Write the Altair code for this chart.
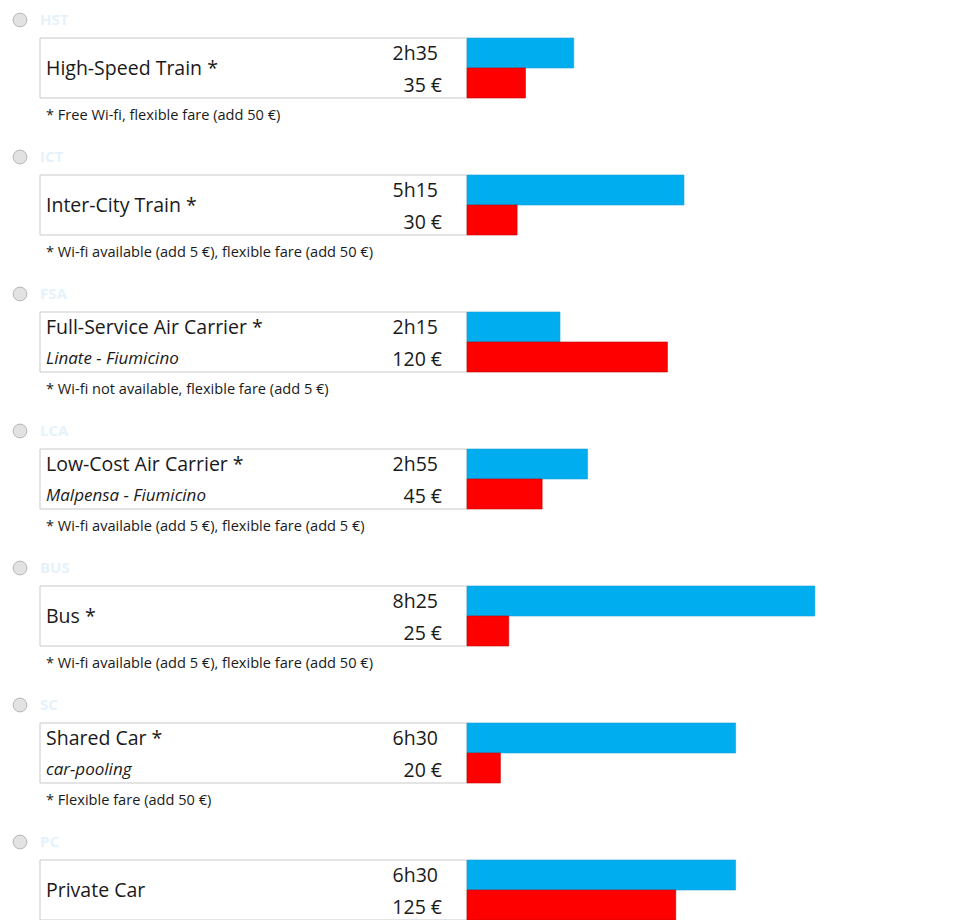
import altair as alt
import pandas as pd

# ---- data ----
modes = ["High-Speed Train *", "Inter-City Train *", "Full-Service Air Carrier *",
         "Low-Cost Air Carrier *", "Bus *", "Shared Car *", "Private Car"]
subtitles = ["", "", "Linate - Fiumicino", "Malpensa - Fiumicino", "", "car-pooling", ""]
codes = ["HST", "ICT", "FSA", "LCA", "BUS", "SC", "PC"]
time_labels = ["2h35", "5h15", "2h15", "2h55", "8h25", "6h30", "6h30"]
prices = [35, 30, 120, 45, 25, 20, 125]
notes = ["* Free Wi-fi, flexible fare (add 50 €)",
         "* Wi-fi available (add 5 €), flexible fare (add 50 €)",
         "* Wi-fi not available, flexible fare (add 5 €)",
         "* Wi-fi available (add 5 €), flexible fare (add 5 €)",
         "* Wi-fi available (add 5 €), flexible fare (add 50 €)",
         "* Flexible fare (add 50 €)",
         ""]


def to_minutes(s):
    h, m = s.split("h")
    return int(h) * 60 + int(m)


df = pd.DataFrame({
    "row": list(range(len(modes))),
    "mode": modes,
    "sub": subtitles,
    "code": codes,
    "time": time_labels,
    "minutes": [to_minutes(t) for t in time_labels],
    "price": prices,
    "price_label": [f"{p} €" for p in prices],
    "note": notes,
})

W, H = 946, 912
STEP = 137
FONT = "Open Sans"
TXT = "#1a1a1a"

yscale = alt.Scale(domain=[0, H / STEP], reverse=True, nice=False, zero=False)
Y = alt.Y("row:Q", scale=yscale, axis=None)
Y2 = alt.Y2("row:Q")

base = alt.Chart(df)

radio = base.mark_point(shape="circle", filled=True, fill="#e2e2e2", stroke="#b5b5b5",
                        strokeWidth=1, size=190, opacity=1, yOffset=12).encode(
    x=alt.value(12), y=Y)

code_txt = base.mark_text(align="left", baseline="middle", font=FONT, fontSize=15,
                          fontWeight="bold", color="#e6f2fb", yOffset=12).encode(
    x=alt.value(32), y=Y, text="code:N")

box = base.mark_rect(fill="white", stroke="#c9c9c9", strokeWidth=1,
                     yOffset=30, y2Offset=90).encode(
    x=alt.value(32), x2=alt.value(459), y=Y, y2=Y2)

blue = base.mark_rect(color="#00aeef", stroke="#1a9fd6", strokeWidth=0.6,
                      yOffset=30, y2Offset=60).encode(
    x=alt.X("minutes:Q", scale=alt.Scale(domain=[0, 707], range=[459, W], nice=False),
            axis=None),
    x2=alt.datum(0),
    y=Y, y2=Y2)

red = base.mark_rect(color="#ff0000", stroke="#c40000", strokeWidth=0.6,
                     yOffset=60, y2Offset=90).encode(
    x=alt.X("price:Q", scale=alt.Scale(domain=[0, 291.6], range=[459, W], nice=False),
            axis=None),
    x2=alt.datum(0),
    y=Y, y2=Y2)

name_single = base.transform_filter("datum.sub == ''").mark_text(
    align="left", baseline="middle", font=FONT, fontSize=19.5, color=TXT, yOffset=61).encode(
    x=alt.value(38), y=Y, text="mode:N")

name_double = base.transform_filter("datum.sub != ''").mark_text(
    align="left", baseline="middle", font=FONT, fontSize=19.5, color=TXT, yOffset=46).encode(
    x=alt.value(38), y=Y, text="mode:N")

sub_txt = base.transform_filter("datum.sub != ''").mark_text(
    align="left", baseline="middle", font=FONT, fontSize=17, fontStyle="italic",
    color=TXT, yOffset=77).encode(
    x=alt.value(38), y=Y, text="sub:N")

time_txt = base.mark_text(align="right", baseline="middle", font=FONT, fontSize=19.5,
                          color=TXT, yOffset=46).encode(
    x=alt.value(430), y=Y, text="time:N")

price_txt = base.mark_text(align="right", baseline="middle", font=FONT, fontSize=19.5,
                           color=TXT, yOffset=78).encode(
    x=alt.value(434), y=Y, text="price_label:N")

note_txt = base.transform_filter("datum.note != ''").mark_text(
    align="left", baseline="middle", font=FONT, fontSize=14.6, color=TXT, yOffset=108).encode(
    x=alt.value(38), y=Y, text="note:N")

chart = alt.layer(
    radio, code_txt, box, blue, red, name_single, name_double, sub_txt,
    time_txt, price_txt, note_txt
).resolve_scale(x="independent").properties(
    width=W, height=H, padding=0, background="white"
).configure_view(stroke=None)

chart.save("out.html", embed_options={"renderer": "svg", "actions": False})
